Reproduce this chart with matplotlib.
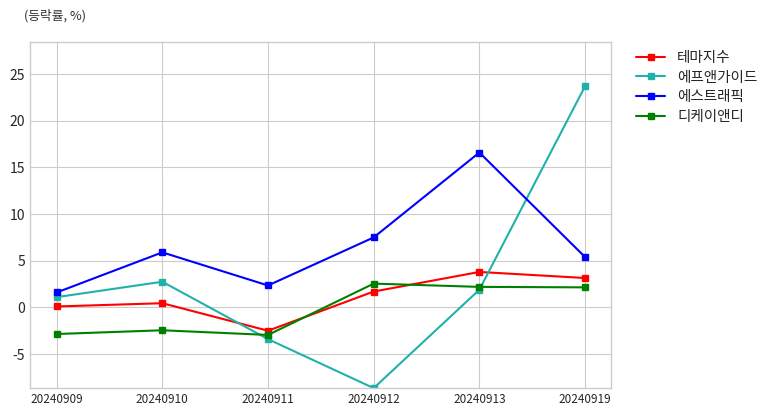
import numpy as np
import matplotlib.pyplot as plt

dates = ['20240909', '20240910', '20240911', '20240912', '20240913', '20240919']
theme_idx = [0.1, 0.45, -2.5, 1.7, 3.8, 3.15]
fnguide = [1.1, 2.75, -3.4, -8.65, 1.9, 23.7]
estrap = [1.6, 5.9, 2.35, 7.5, 16.6, 5.4]
dkand = [-2.85, -2.45, -2.95, 2.55, 2.2, 2.15]

names = ['테마지수', '에프앤가이드', '에스트래픽', '디케이앤디']
colors = ['red', 'lightseagreen', 'blue', 'green']

plt.style.use('seaborn-v0_8-whitegrid')
plt.rcParams['font.family'] = ['Noto Sans CJK KR', 'DejaVu Sans']
plt.rcParams['axes.unicode_minus'] = False

fig = plt.figure(figsize=(7.75, 4.16), dpi=100)
ax = fig.add_axes([0.039, 0.067, 0.75, 0.832])

x = np.arange(len(dates))
for vals, nm, c in zip([theme_idx, fnguide, estrap, dkand], names, colors):
    ax.plot(x, vals, color=c, marker='s', markersize=4.5, linewidth=1.5, label=nm)

allv = theme_idx + fnguide + estrap + dkand
ax.set_ylim(min(allv), max(allv) * 1.2)
ax.set_xlim(-0.25, 5.25)
ax.set_xticks(x)
ax.set_xticklabels(dates, fontsize=8.5)
ax.tick_params(axis='y', labelsize=10)
for s in ax.spines.values():
    s.set_visible(True)
    s.set_color('#cccccc')

ax.legend(loc='upper left', bbox_to_anchor=(1.02, 1.012), fontsize=10.5,
          frameon=False, labelspacing=0.38)
fig.text(0.031, 0.963, '(등락률, %)', fontsize=9.2, color='#333333', va='center')

fig.savefig('out.png', dpi=100)
